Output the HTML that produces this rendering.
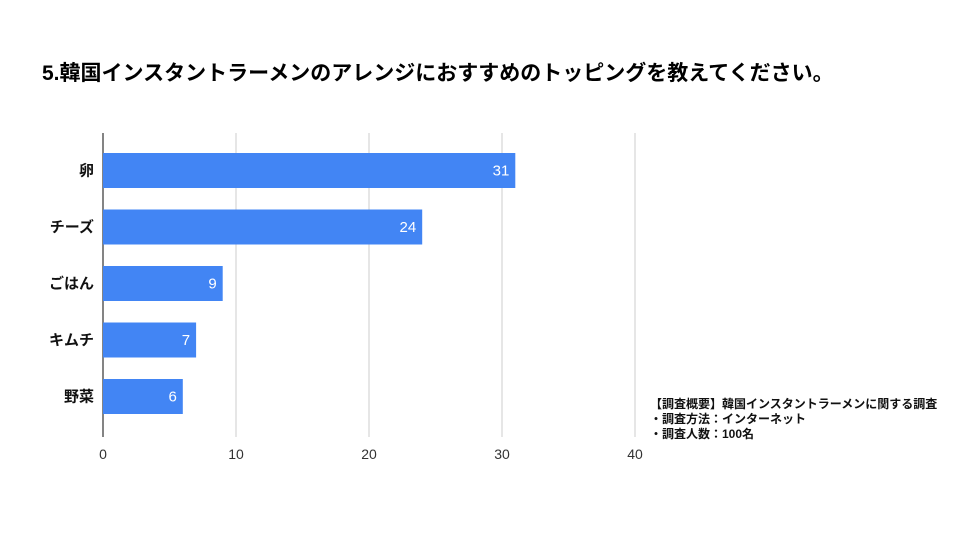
<!DOCTYPE html>
<html><head><meta charset="utf-8"><style>
body{margin:0;background:#fff;width:960px;height:540px;overflow:hidden}
svg{font-family:"Liberation Sans","Noto Sans CJK JP",sans-serif}
</style></head><body>
<svg id="c" width="960" height="540">
<text x="42" y="80" font-size="21" font-weight="bold" fill="#000">5.韓国インスタントラーメンのアレンジにおすすめのトッピングを教えてください。</text>
<g id="grid"></g><g id="bars"></g>
<g font-size="12" font-weight="bold" fill="#111">
<text x="650" y="408">【調査概要】韓国インスタントラーメンに関する調査</text>
<text x="650" y="423">・調査方法：インターネット</text>
<text x="650" y="438">・調査人数：100名</text>
</g>
</svg>
<script>
const categories=["卵","チーズ","ごはん","キムチ","野菜"];
const values=[31,24,9,7,6];
const ticks=[0,10,20,30,40];
const ns="http://www.w3.org/2000/svg";
const x0=103,x1=635,yTop=133,yBottom=437,maxV=40;
const xs=v=>x0+(x1-x0)*v/maxV;
const firstBar=153, band=56.5, bh=35;
const yb=i=>firstBar+i*band;
function mk(t,a,p){const e=document.createElementNS(ns,t);for(const k in a)e.setAttribute(k,a[k]);p.appendChild(e);return e;}
const g=document.getElementById('grid'),b=document.getElementById('bars');
ticks.forEach(t=>{
 const l=mk('line',{x1:xs(t),x2:xs(t),y1:yTop,y2:yBottom,stroke:t===0?'#333':'#ccc','stroke-width':t===0?1.2:1},g);
 
 
 const tx=mk('text',{x:xs(t),y:yBottom+22,'text-anchor':'middle','font-size':14,fill:'#333'},g);
 tx.textContent=t;
 
 
});
categories.forEach((c,i)=>{
 const r=mk('rect',{x:x0,y:yb(i),width:xs(values[i])-x0,height:bh,fill:'#4285f4'},b);
 
 
 const v=mk('text',{x:xs(values[i])-6,y:yb(i)+bh/2+5,'text-anchor':'end','font-size':15,fill:'#fff'},b);
 v.textContent=values[i];
 
 
 const lb=mk('text',{x:94,y:yb(i)+bh/2+5,'text-anchor':'end','font-size':15,'font-weight':'bold',fill:'#111'},b);
 lb.textContent=c;
 
 
});
</script>
</body></html>
